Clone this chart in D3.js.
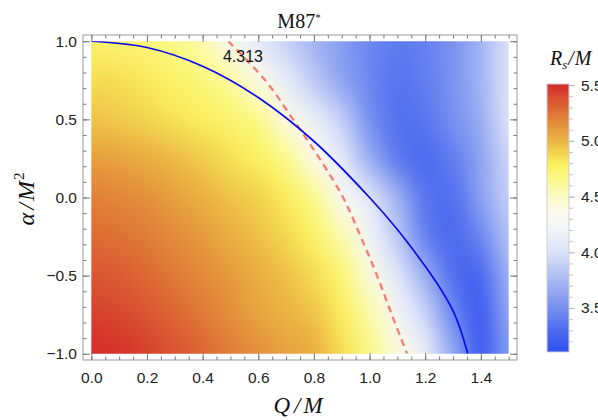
<!DOCTYPE html>
<html>
<head>
<meta charset="utf-8">
<script src="https://cdn.jsdelivr.net/npm/d3@7"></script>
<style>
  html, body { margin: 0; padding: 0; background: #fff; overflow: hidden; }
  svg { display: block; }
</style>
</head>
<body>
<script>
const WIDTH = 598;
const HEIGHT = 420;
const FRAME = { left: 83, right: 517, top: 35, bottom: 360 };
const BAR = { x: 547, width: 22, top: 84, bottom: 352 };

// grid of the density plot, R_s/M
const qGrid = [0.0, 0.1, 0.2, 0.3, 0.4, 0.5, 0.6, 0.7, 0.8, 0.9, 1.0, 1.1, 1.2, 1.3, 1.4, 1.5];
const alphaGrid = [1.0, 0.75, 0.5, 0.25, 0.0, -0.25, -0.5, -0.75, -1.0];

const rsAlphaP100 = [4.75, 4.74, 4.71, 4.66, 4.57, 4.31, 4.10, 3.90, 3.72, 3.58, 3.45, 3.38, 3.42, 3.52, 3.72, 4.00];
const rsAlphaP075 = [4.86, 4.85, 4.81, 4.76, 4.70, 4.60, 4.38, 4.12, 3.85, 3.62, 3.45, 3.35, 3.40, 3.52, 3.72, 4.00];
const rsAlphaP050 = [4.95, 4.93, 4.89, 4.84, 4.79, 4.74, 4.66, 4.40, 4.15, 3.88, 3.50, 3.33, 3.36, 3.50, 3.68, 4.00];
const rsAlphaP025 = [5.09, 5.07, 5.03, 4.98, 4.92, 4.85, 4.78, 4.65, 4.38, 4.08, 3.68, 3.38, 3.28, 3.40, 3.62, 3.92];
const rsAlpha000  = [5.20, 5.18, 5.14, 5.08, 5.02, 4.95, 4.90, 4.80, 4.65, 4.33, 4.05, 3.70, 3.35, 3.32, 3.60, 3.88];
const rsAlphaM025 = [5.28, 5.26, 5.22, 5.16, 5.10, 5.03, 4.96, 4.88, 4.76, 4.56, 4.20, 3.85, 3.42, 3.28, 3.45, 3.80];
const rsAlphaM050 = [5.36, 5.34, 5.29, 5.23, 5.17, 5.10, 5.03, 4.96, 4.86, 4.72, 4.42, 4.05, 3.68, 3.32, 3.28, 3.70];
const rsAlphaM075 = [5.43, 5.41, 5.36, 5.30, 5.23, 5.15, 5.07, 5.01, 4.95, 4.80, 4.58, 4.25, 3.92, 3.45, 3.20, 3.62];
const rsAlphaM100 = [5.50, 5.48, 5.43, 5.37, 5.30, 5.22, 5.14, 5.08, 5.03, 4.86, 4.66, 4.42, 4.12, 3.65, 3.20, 3.55];

// horizon boundary (solid blue)
const boundaryQ = [0.0, 0.2, 0.4, 0.6, 0.8, 1.0, 1.1, 1.2, 1.25, 1.3, 1.325, 1.353];
const boundaryAlpha = [1.0, 0.96, 0.84, 0.64, 0.36, 0.0, -0.205, -0.44, -0.57, -0.725, -0.835, -1.0];

// M87* contour R_s/M = 4.313 (dashed)
const contourLevel = 4.313;
const contourQ = [0.492, 0.625, 0.725, 0.82, 0.905, 0.968, 1.027, 1.08, 1.135];
const contourAlpha = [1.0, 0.75, 0.5, 0.25, 0.0, -0.25, -0.5, -0.75, -1.0];

const xTicks = [0.0, 0.2, 0.4, 0.6, 0.8, 1.0, 1.2, 1.4];
const yTicks = [-1.0, -0.5, 0.0, 0.5, 1.0];
const barTicks = [3.5, 4.0, 4.5, 5.0, 5.5];
const barRange = [3.105, 5.51];

const colorStops = [3.1, 3.3, 3.5, 3.75, 4.0, 4.2, 4.35, 4.5, 4.65, 4.78, 4.9, 5.0, 5.15, 5.3, 5.51];
const colorHex = ['#2f4ff0', '#4d6bef', '#7790f0', '#a9b9f3', '#dbe2f8', '#f2f3f7', '#fafaf0',
                  '#fbfbc4', '#fbf98c', '#fbf160', '#f2d24c', '#ebb444', '#e48f3a', '#dc6634', '#d42a2a'];

const rsGrid = [rsAlphaP100, rsAlphaP075, rsAlphaP050, rsAlphaP025, rsAlpha000,
                rsAlphaM025, rsAlphaM050, rsAlphaM075, rsAlphaM100];

const x = d3.scaleLinear().domain([-0.03, 1.53]).range([FRAME.left, FRAME.right]);
const y = d3.scaleLinear().domain([-1.04, 1.04]).range([FRAME.bottom, FRAME.top]);
const color = d3.scaleLinear().domain(colorStops).range(colorHex).clamp(true);
const barY = d3.scaleLinear().domain(barRange).range([BAR.bottom, BAR.top]);

const svg = d3.select('body').append('svg')
  .attr('width', WIDTH)
  .attr('height', HEIGHT)
  .attr('font-family', "'Liberation Sans', Arial, sans-serif");

const defs = svg.append('defs');
defs.append('clipPath').attr('id', 'data-clip')
  .append('rect')
    .attr('x', x(0)).attr('y', y(1))
    .attr('width', x(1.5) - x(0)).attr('height', y(-1) - y(1));

// density image: one pixel per grid cell, edge cells repeated, smoothed on upscale
const nx = qGrid.length;
const ny = alphaGrid.length;
const small = document.createElement('canvas');
small.width = nx + 2;
small.height = ny + 2;
const sctx = small.getContext('2d');
const img = sctx.createImageData(nx + 2, ny + 2);
for (let j = 0; j < ny + 2; j++) {
  for (let i = 0; i < nx + 2; i++) {
    const jj = Math.min(ny - 1, Math.max(0, j - 1));
    const ii = Math.min(nx - 1, Math.max(0, i - 1));
    const c = d3.rgb(color(rsGrid[jj][ii]));
    const k = 4 * (j * (nx + 2) + i);
    img.data[k] = c.r; img.data[k + 1] = c.g; img.data[k + 2] = c.b; img.data[k + 3] = 255;
  }
}
sctx.putImageData(img, 0, 0);

const dq = qGrid[1] - qGrid[0];
const da = alphaGrid[0] - alphaGrid[1];
const imgX0 = x(qGrid[0] - 1.5 * dq);
const imgX1 = x(qGrid[nx - 1] + 1.5 * dq);
const imgY0 = y(alphaGrid[0] + 1.5 * da);
const imgY1 = y(alphaGrid[ny - 1] - 1.5 * da);

const big = document.createElement('canvas');
big.width = WIDTH;
big.height = HEIGHT;
const bctx = big.getContext('2d');
bctx.imageSmoothingEnabled = true;
bctx.imageSmoothingQuality = 'high';
bctx.drawImage(small, imgX0, imgY0, imgX1 - imgX0, imgY1 - imgY0);

svg.append('image')
  .attr('x', 0).attr('y', 0)
  .attr('width', WIDTH).attr('height', HEIGHT)
  .attr('href', big.toDataURL())
  .attr('clip-path', 'url(#data-clip)');

// curves
const plot = svg.append('g').attr('clip-path', 'url(#data-clip)');

const line = d3.line()
  .x(d => x(d[0]))
  .y(d => y(d[1]))
  .curve(d3.curveCatmullRom);

plot.append('path')
  .datum(d3.zip(contourQ, contourAlpha))
  .attr('d', line)
  .attr('fill', 'none')
  .attr('stroke', '#f47f78')
  .attr('stroke-width', 2.4)
  .attr('stroke-dasharray', '7,5');

plot.append('path')
  .datum(d3.zip(boundaryQ, boundaryAlpha))
  .attr('d', line)
  .attr('fill', 'none')
  .attr('stroke', '#0a0aef')
  .attr('stroke-width', 1.7);

svg.append('text')
  .attr('x', x(0.545))
  .attr('y', y(0.868))
  .attr('text-anchor', 'middle')
  .attr('font-size', 16)
  .attr('fill', '#111')
  .text(contourLevel);

// frame and ticks
svg.append('rect')
  .attr('x', FRAME.left).attr('y', FRAME.top)
  .attr('width', FRAME.right - FRAME.left).attr('height', FRAME.bottom - FRAME.top)
  .attr('fill', 'none')
  .attr('stroke', '#9a9a9a')
  .attr('stroke-width', 1);

const fmt = d3.format('.1f');
const xMinor = d3.range(0, 1.5001, 0.05);
const yMinor = d3.range(-1, 1.0001, 0.1);

function styleAxis(g) {
  g.select('.domain').remove();
  g.selectAll('line').attr('stroke', '#7a7a7a');
  g.selectAll('text').attr('font-size', 15.5).attr('fill', '#222').attr('font-family', null);
}

// bottom
svg.append('g').attr('transform', `translate(0,${FRAME.bottom})`)
  .call(d3.axisBottom(x).tickValues(xMinor).tickSize(-3.5).tickFormat(''))
  .call(styleAxis);
svg.append('g').attr('transform', `translate(0,${FRAME.bottom})`)
  .call(d3.axisBottom(x).tickValues(xTicks).tickSize(-7).tickPadding(12).tickFormat(fmt))
  .call(styleAxis);
// top
svg.append('g').attr('transform', `translate(0,${FRAME.top})`)
  .call(d3.axisTop(x).tickValues(xMinor).tickSize(-3.5).tickFormat(''))
  .call(styleAxis);
svg.append('g').attr('transform', `translate(0,${FRAME.top})`)
  .call(d3.axisTop(x).tickValues(xTicks).tickSize(-7).tickFormat(''))
  .call(styleAxis);
// left
svg.append('g').attr('transform', `translate(${FRAME.left},0)`)
  .call(d3.axisLeft(y).tickValues(yMinor).tickSize(-3.5).tickFormat(''))
  .call(styleAxis);
svg.append('g').attr('transform', `translate(${FRAME.left},0)`)
  .call(d3.axisLeft(y).tickValues(yTicks).tickSize(-7).tickPadding(6).tickFormat(fmt))
  .call(styleAxis);
// right
svg.append('g').attr('transform', `translate(${FRAME.right},0)`)
  .call(d3.axisRight(y).tickValues(yMinor).tickSize(-3.5).tickFormat(''))
  .call(styleAxis);
svg.append('g').attr('transform', `translate(${FRAME.right},0)`)
  .call(d3.axisRight(y).tickValues(yTicks).tickSize(-7).tickFormat(''))
  .call(styleAxis);

// titles
const serif = "'Liberation Serif', 'Times New Roman', serif";

const title = svg.append('text')
  .attr('x', 299).attr('y', 28)
  .attr('text-anchor', 'middle')
  .attr('font-family', serif)
  .attr('font-size', 20)
  .attr('fill', '#111');
title.append('tspan').text('M87');
title.append('tspan').attr('font-size', 11).attr('dy', -7).text('*');

const xLabel = svg.append('text')
  .attr('x', 298).attr('y', 413)
  .attr('text-anchor', 'middle')
  .attr('font-family', serif)
  .attr('font-style', 'italic')
  .attr('font-size', 23)
  .attr('fill', '#111');
xLabel.append('tspan').text('Q');
xLabel.append('tspan').attr('dx', 4).text('/');
xLabel.append('tspan').attr('dx', 3).text('M');

const yLabel = svg.append('text')
  .attr('transform', 'translate(34,199) rotate(-90)')
  .attr('text-anchor', 'middle')
  .attr('font-family', serif)
  .attr('font-size', 24)
  .attr('fill', '#111');
yLabel.append('tspan').attr('font-style', 'italic').text('α');
yLabel.append('tspan').attr('font-style', 'italic').attr('dx', 3).text('/');
yLabel.append('tspan').attr('font-style', 'italic').attr('dx', 2).text('M');
yLabel.append('tspan').attr('font-size', 15).attr('dy', -10).attr('dx', 1).text('2');

// colour bar
const grad = defs.append('linearGradient').attr('id', 'bar-grad')
  .attr('x1', 0).attr('y1', 1).attr('x2', 0).attr('y2', 0);
grad.selectAll('stop')
  .data(colorStops)
  .join('stop')
    .attr('offset', d => Math.max(0, Math.min(1, (d - barRange[0]) / (barRange[1] - barRange[0]))))
    .attr('stop-color', d => color(d));

svg.append('rect')
  .attr('x', BAR.x).attr('y', BAR.top)
  .attr('width', BAR.width).attr('height', BAR.bottom - BAR.top)
  .attr('fill', 'url(#bar-grad)')
  .attr('stroke', '#cfcfcf')
  .attr('stroke-width', 1);

svg.append('g').attr('transform', `translate(${BAR.x + BAR.width},0)`)
  .call(d3.axisRight(barY).tickValues(d3.range(3.2, 5.51, 0.1)).tickSize(4).tickFormat(''))
  .call(g => { g.select('.domain').remove(); g.selectAll('line').attr('stroke', '#c4c4c4'); });

svg.append('g').attr('transform', `translate(${BAR.x + BAR.width},0)`)
  .call(d3.axisRight(barY).tickValues(barTicks).tickSize(6).tickPadding(6).tickFormat(fmt))
  .call(g => {
    g.select('.domain').remove();
    g.selectAll('line').attr('stroke', '#b8b8b8');
    g.selectAll('text').attr('font-size', 15.5).attr('fill', '#222').attr('font-family', null);
  });

const barTitle = svg.append('text')
  .attr('x', 550).attr('y', 65)
  .attr('font-family', serif)
  .attr('font-style', 'italic')
  .attr('font-size', 20)
  .attr('fill', '#111');
barTitle.append('tspan').text('R');
barTitle.append('tspan').attr('font-size', 13).attr('dy', 4).text('s');
barTitle.append('tspan').attr('dy', -4).attr('dx', 1).text('/');
barTitle.append('tspan').attr('dx', 1).text('M');
</script>
</body>
</html>
